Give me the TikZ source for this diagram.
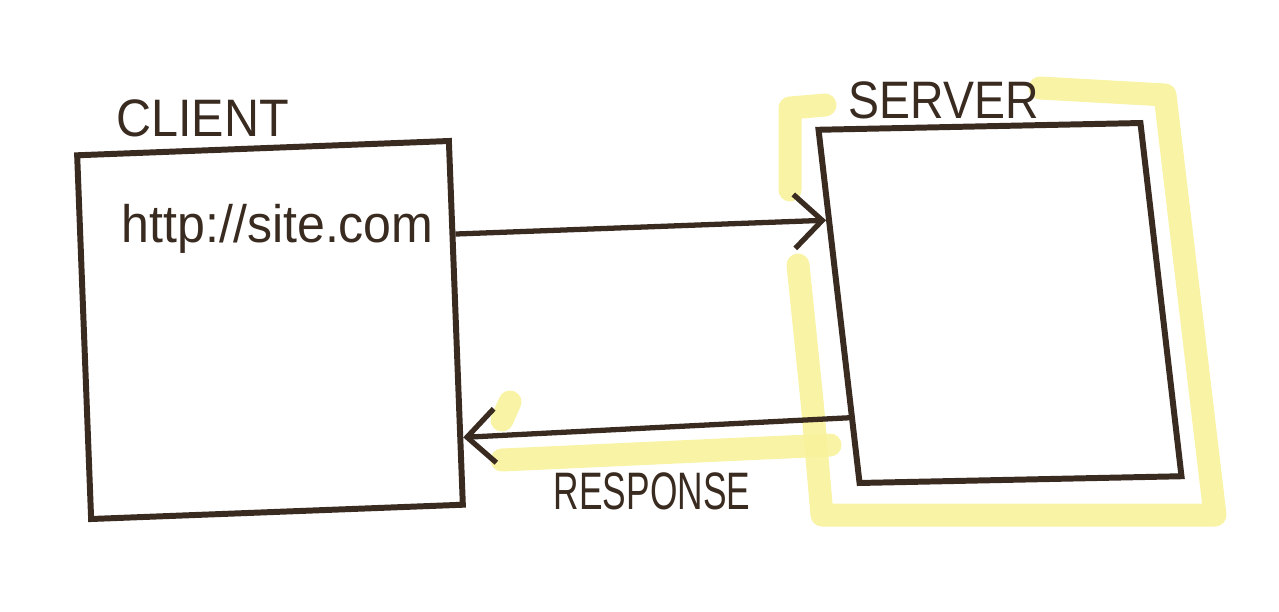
\documentclass[tikz,border=0pt]{standalone}
\usepackage{fontspec}
\setmainfont{Liberation Sans}
\usepackage{xcolor}
\usepackage{tikz}
\usetikzlibrary{arrows.meta,calc}

\definecolor{ink}{HTML}{3A2B21}
\definecolor{marker}{HTML}{F8F29C}

\tikzset{
  sketchbox/.style={draw=ink, line width=1.7pt, fill=white, inner sep=0pt},
  flow/.style={draw=ink, line width=1.5pt, -{Straight Barb[length=2.8mm, width=5.4mm, line width=1.5pt]}},
  glow/.style={draw=marker, line width=2.3mm, line cap=round, line join=round, opacity=0.9},
  label/.style={text=ink, font=\fontsize{15}{17}\selectfont}
}

\begin{document}
\begin{tikzpicture}[scale=1.0]
\useasboundingbox (0,0) rectangle (12.79,6.11);

% Highlighter around the server
\draw[glow] (10.40,5.23) -- (11.65,5.16) -- (12.15,0.96) -- (8.22,0.96) -- (8.12,2.10) -- (7.98,3.46);
\draw[glow] (7.90,4.21) -- (7.90,5.03) -- (8.25,5.06);
\draw[glow] (5.02,1.51) -- (8.30,1.66);
\draw[glow] (5.10,2.09) -- (5.02,1.91);

% Boxes
\node[sketchbox, minimum width=3.72cm, minimum height=3.64cm, rotate=2.2] (client) at (2.70,2.81) {};
\node[sketchbox, minimum width=3.22cm, minimum height=3.54cm, rotate=1.2, xslant=-0.095] (server) at (10.00,3.08) {};

% Titles and address
\node[label, anchor=south west, xscale=0.92] (clientname) at (1.05,4.62) {CLIENT};
\node[label, anchor=south west, xscale=0.88] (servername) at (8.38,4.80) {SERVER};
\node[label, anchor=west, xscale=0.95] (address) at (1.10,3.82) {http://site.com};
\node[label, xscale=0.67] (response) at (6.52,1.20) {RESPONSE};

% Request and response
\draw[flow] ($(client.north east)!0.26!(client.south east)$) -- ($(server.north west)!0.26!(server.south west)$);
\draw[flow] ($(server.north west)!0.81!(server.south west)$) -- ($(client.north east)!0.81!(client.south east)$);

\end{tikzpicture}
\end{document}
